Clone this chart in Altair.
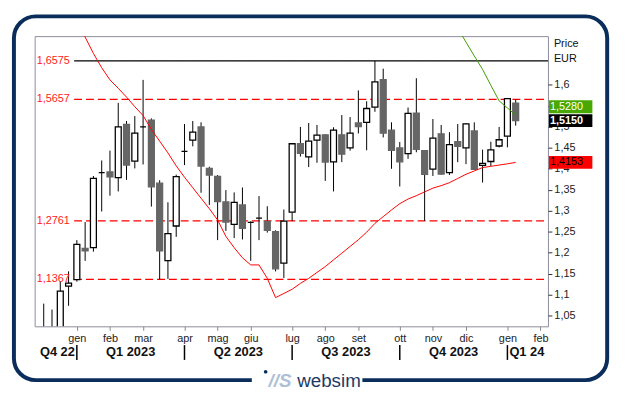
import altair as alt
import pandas as pd

# ---------------- data ----------------
opens  = [1.000, 1.010, 1.000, 1.1204, 1.1359, 1.2104, 1.2120, 1.3908, 1.3924, 1.3791,
          1.5061, 1.4183, 1.4999, 1.5163, 1.3657, 1.1814, 1.2637, 1.4418, 1.4685, 1.4999,
          1.4010, 1.3822, 1.3210, 1.2677, 1.3140, 1.2724, 1.2826, 1.2747, 1.2504, 1.1751,
          1.2967, 1.4598, 1.4285, 1.4685, 1.4810, 1.4167, 1.4810, 1.4497, 1.5093, 1.5108,
          1.5470, 1.6128, 1.4920, 1.4497, 1.4363, 1.5328, 1.4434, 1.3995, 1.4834, 1.3908,
          1.4646, 1.4497, 1.4904, 1.4081, 1.4175, 1.4544, 1.4779, 1.5563]
closes = [1.010, 0.990, 1.1085, 1.1274, 1.2199, 1.2042, 1.3775, 1.3908, 1.3806, 1.4999,
          1.4089, 1.4850, 1.4999, 1.3571, 1.2042, 1.2457, 1.3814, 1.4418, 1.4873, 1.4065,
          1.3853, 1.3218, 1.2732, 1.3202, 1.2583, 1.2724, 1.2826, 1.2536, 1.1618, 1.2755,
          1.4598, 1.4371, 1.4661, 1.4802, 1.4160, 1.4920, 1.4348, 1.4850, 1.5006, 1.5438,
          1.6073, 1.4850, 1.4442, 1.4167, 1.5320, 1.4465, 1.3869, 1.4732, 1.3877, 1.4575,
          1.4536, 1.5069, 1.3987, 1.4128, 1.4450, 1.4693, 1.5673, 1.5150]
highs  = [1.0787, 1.0646, 1.1320, 1.1556, 1.2300, 1.2732, 1.3830, 1.4199, 1.4434, 1.5571,
          1.5140, 1.5257, 1.6120, 1.5202, 1.3728, 1.3203, 1.3862, 1.5069, 1.5140, 1.5108,
          1.4050, 1.3853, 1.3493, 1.3438, 1.3555, 1.2747, 1.3351, 1.3108, 1.2536, 1.3030,
          1.4610, 1.4999, 1.5093, 1.5046, 1.4820, 1.4990, 1.5281, 1.5234, 1.5869, 1.5610,
          1.6575, 1.6387, 1.5108, 1.4638, 1.5461, 1.6159, 1.4440, 1.5187, 1.5046, 1.4873,
          1.5069, 1.5085, 1.5108, 1.4457, 1.4646, 1.4999, 1.5689, 1.5657]
lows   = [0.950, 0.950, 0.990, 1.0735, 1.1310, 1.1806, 1.2026, 1.2983, 1.3360, 1.3461,
          1.3736, 1.4010, 1.4104, 1.3100, 1.1359, 1.1375, 1.2379, 1.4089, 1.4536, 1.3430,
          1.3140, 1.2301, 1.2520, 1.2348, 1.2316, 1.1806, 1.2301, 1.2480, 1.1555, 1.1399,
          1.2755, 1.4293, 1.4042, 1.4144, 1.3712, 1.3461, 1.4160, 1.4434, 1.4842, 1.4442,
          1.5359, 1.4748, 1.4000, 1.3579, 1.4238, 1.4395, 1.2761, 1.3830, 1.3860, 1.3853,
          1.4159, 1.4112, 1.3971, 1.3673, 1.4065, 1.4512, 1.4512, 1.5030]

red_ma_start = 4
red_ma = [1.755, 1.714, 1.675, 1.641, 1.612, 1.592, 1.571, 1.548, 1.527, 1.494,
          1.466, 1.438, 1.407, 1.380, 1.355, 1.330, 1.305, 1.278, 1.239, 1.212,
          1.188, 1.171, 1.171, 1.139, 1.093, 1.103, 1.113, 1.127, 1.139, 1.153,
          1.167, 1.183, 1.199, 1.215, 1.231, 1.249, 1.270, 1.286, 1.302, 1.317,
          1.328, 1.336, 1.345, 1.354, 1.360, 1.367, 1.377, 1.387, 1.395, 1.403,
          1.406, 1.409, 1.412, 1.4153]
green_ma_start = 50
green_ma = [1.735, 1.702, 1.669, 1.637, 1.599, 1.562, 1.545, 1.528]

levels = [1.6575, 1.5657, 1.2761, 1.1367]
level_kind = ["solid", "dash", "dash", "dash"]

month_idx = [4, 8, 12, 17, 21, 25, 30, 34, 38, 43, 47, 51, 56, 60]
month_lbl = ["gen", "feb", "mar", "apr", "mag", "giu", "lug", "ago", "set", "ott",
             "nov", "dic", "gen", "feb"]

quarter_bounds = [4, 17, 30, 43, 56]
quarter_lbls = ["Q4 22", "Q1 2023", "Q2 2023", "Q3 2023", "Q4 2023", "Q1 24"]

y_ticks = [1.05, 1.1, 1.15, 1.2, 1.25, 1.3, 1.35, 1.4, 1.45, 1.5, 1.55, 1.6]

box_values = [1.5280, 1.5150, 1.4153]
box_fill = ["#49a800", "#000000", "#ff0000"]
box_text_col = ["white", "white", "black"]
box_weight = ["normal", "bold", "normal"]
box_shift = [-8.5, 0, 0]

header_lines = ["Price", "EUR"]

# ---------------- layout ----------------
W, H = 520, 294
FONT = "Liberation Sans"
NAVY = "#0b2d5b"

def fmt(v):
    return f"{v:.4f}".replace(".", ",")

xs = alt.Scale(domain=[-0.5, 60.3], nice=False, zero=False)
ys = alt.Scale(domain=[1.0246, 1.7163], nice=False, zero=False)

label_expr_x = ("[" + ",".join(f"'{m}'" for m in month_lbl) + "][indexof(["
                + ",".join(str(i) for i in month_idx) + "], datum.value)]")
xaxis = alt.Axis(values=month_idx, labelExpr=label_expr_x, title=None, grid=False,
                 domain=False, tickSize=4, tickColor="#888888", labelFontSize=11,
                 labelFont=FONT, labelColor="#222222", labelPadding=2)
yaxis = alt.Axis(values=y_ticks, orient="right", title=None, grid=False, domain=False,
                 labelExpr="replace(format(datum.value, '.2~f'), '.', ',')",
                 tickSize=4, tickColor="#333333", labelFontSize=11, labelFont=FONT,
                 labelColor="#222222", labelPadding=2)

def X(field="idx"):
    return alt.X(f"{field}:Q", scale=xs, axis=xaxis)

def Y(field):
    return alt.Y(f"{field}:Q", scale=ys, axis=yaxis)

n = len(opens)
candles = pd.DataFrame({"idx": list(range(n)), "open": opens, "close": closes,
                        "high": highs, "low": lows})

wicks = alt.Chart(candles).mark_rule(color="black", strokeWidth=1, clip=True).encode(
    x=X(), y=Y("low"), y2="high:Q")

bodies = alt.Chart(candles).transform_calculate(
    dir="datum.close >= datum.open ? 'up' : 'down'"
).mark_bar(size=6, strokeWidth=1.3, clip=True).encode(
    x=X(), y=Y("open"), y2="close:Q",
    fill=alt.Fill("dir:N", scale=alt.Scale(domain=["up", "down"], range=["white", "#666666"]), legend=None),
    stroke=alt.Stroke("dir:N", scale=alt.Scale(domain=["up", "down"], range=["black", "#666666"]), legend=None),
)

red_df = pd.DataFrame({"idx": list(range(red_ma_start, red_ma_start + len(red_ma))), "v": red_ma})
green_df = pd.DataFrame({"idx": list(range(green_ma_start, green_ma_start + len(green_ma))), "v": green_ma})

red_line = alt.Chart(red_df).mark_line(color="#ff0000", strokeWidth=1, clip=True).encode(x=X(), y=Y("v"))
green_line = alt.Chart(green_df).mark_line(color="#3c9c00", strokeWidth=1, clip=True).encode(x=X(), y=Y("v"))

lev_df = pd.DataFrame({"level": levels, "kind": level_kind, "label": [fmt(v) for v in levels]})
level_rules = alt.Chart(lev_df).mark_rule(strokeWidth=1.3).encode(
    y=Y("level"), x=alt.value(40), x2=alt.value(W),
    color=alt.Color("kind:N", scale=alt.Scale(domain=["solid", "dash"], range=["black", "#ff0000"]), legend=None),
    strokeDash=alt.StrokeDash("kind:N", scale=alt.Scale(domain=["solid", "dash"], range=[[1, 0], [8, 4]]), legend=None),
)
level_text = alt.Chart(lev_df).mark_text(align="left", baseline="middle", fontSize=11, font=FONT,
                                         color="#ff2020").encode(
    y=Y("level"), x=alt.value(2), text="label:N")

# quarter row
q_mid = pd.DataFrame({"x": [(quarter_bounds[i] + quarter_bounds[i + 1]) / 2 for i in range(len(quarter_bounds) - 1)],
                      "t": quarter_lbls[1:-1]})
q_first = pd.DataFrame({"x": [quarter_bounds[0]], "t": [quarter_lbls[0]]})
q_last = pd.DataFrame({"x": [quarter_bounds[-1]], "t": [quarter_lbls[-1]]})
qstyle = dict(baseline="middle", fontSize=13, fontWeight="bold", font=FONT, color="#111111")
q_mid_t = alt.Chart(q_mid).mark_text(align="center", **qstyle).encode(x=X("x"), y=alt.value(H + 26), text="t:N")
q_first_t = alt.Chart(q_first).mark_text(align="right", dx=-2, **qstyle).encode(x=X("x"), y=alt.value(H + 26), text="t:N")
q_last_t = alt.Chart(q_last).mark_text(align="left", dx=2, **qstyle).encode(x=X("x"), y=alt.value(H + 26), text="t:N")
q_sep = alt.Chart(pd.DataFrame({"x": quarter_bounds})).mark_rule(color="black", strokeWidth=1.5).encode(
    x=X("x"), y=alt.value(H + 19), y2=alt.value(H + 34))

# header on the right
header_layers = []
for i, t in enumerate(header_lines):
    header_layers.append(
        alt.Chart(pd.DataFrame({"t": [t]})).mark_text(align="left", baseline="middle", fontSize=11,
                                                      font=FONT, color="#111111").encode(
            x=alt.value(W + 6), y=alt.value(8 + 15 * i), text="t:N"))

# value boxes
box_layers = []
for v, f, tc, wgt, sh in zip(box_values, box_fill, box_text_col, box_weight, box_shift):
    bdf = pd.DataFrame({"v": [v], "t": [fmt(v)]})
    box_layers.append(alt.Chart(bdf).mark_tick(orient="horizontal", size=44, thickness=13, opacity=1,
                                               color=f, yOffset=sh).encode(
        y=Y("v"), x=alt.value(W + 23)))
    box_layers.append(alt.Chart(bdf).mark_text(align="left", baseline="middle", fontSize=11, font=FONT,
                                               color=tc, fontWeight=wgt, yOffset=sh).encode(
        y=Y("v"), x=alt.value(W + 2), text="t:N"))

# frame and logo
one = pd.DataFrame({"a": [0]})
frame = alt.Chart(one).mark_rect(cornerRadius=22, fill="white", fillOpacity=0, stroke=NAVY, strokeWidth=4).encode(
    x=alt.value(-21), x2=alt.value(580), y=alt.value(-20), y2=alt.value(348.5))
gap = alt.Chart(one).mark_rect(fill="white").encode(
    x=alt.value(220), x2=alt.value(332), y=alt.value(343), y2=alt.value(354))
dot = alt.Chart(one).mark_point(filled=True, size=14, color=NAVY, opacity=1).encode(
    x=alt.value(234), y=alt.value(340))
logo_icon = alt.Chart(pd.DataFrame({"t": ["//S"]})).mark_text(
    align="left", baseline="alphabetic", fontSize=19, fontStyle="italic", fontWeight="bold",
    font=FONT, color="#aebfd6").encode(x=alt.value(237), y=alt.value(355), text="t:N")
logo_text = alt.Chart(pd.DataFrame({"t": ["websim"]})).mark_text(
    align="left", baseline="alphabetic", fontSize=19, font=FONT, color="#1c3a66").encode(
    x=alt.value(266), y=alt.value(355), text="t:N")

chart = alt.layer(
    frame, gap, dot, logo_icon, logo_text,
    level_rules, wicks, bodies, red_line, green_line, level_text,
    q_sep, q_mid_t, q_first_t, q_last_t,
    *header_layers, *box_layers,
).properties(
    width=W, height=H,
    autosize=alt.AutoSizeParams(type="none"),
    padding={"left": 27, "top": 26, "right": 74, "bottom": 61},
    background="white",
).configure_view(stroke="#8c8c9c", strokeWidth=1)

chart.save("out.html", embed_options={"renderer": "svg", "actions": False})
